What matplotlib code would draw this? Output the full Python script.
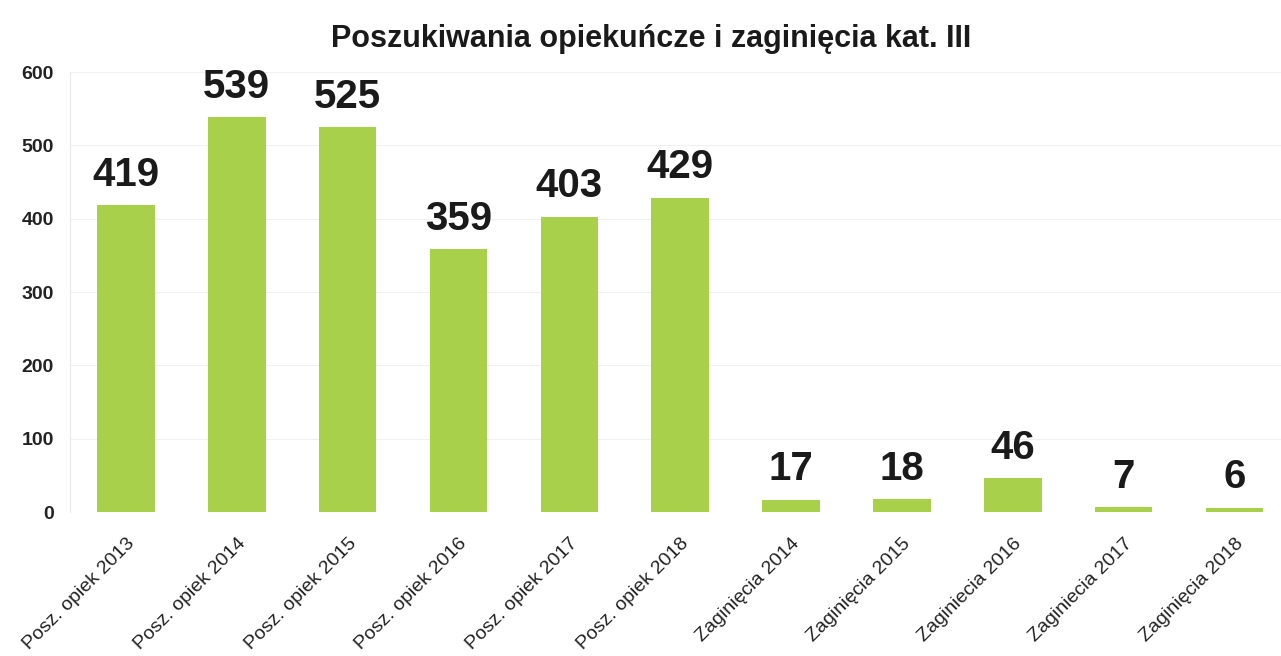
import matplotlib
matplotlib.use("Agg")
import matplotlib.pyplot as plt
from matplotlib.transforms import ScaledTranslation

categories = ["Posz. opiek 2013", "Posz. opiek 2014", "Posz. opiek 2015",
              "Posz. opiek 2016", "Posz. opiek 2017", "Posz. opiek 2018",
              "Zaginięcia 2014", "Zaginięcia 2015", "Zaginiecia 2016",
              "Zaginiecia 2017", "Zaginięcia 2018"]
values = [419, 539, 525, 359, 403, 429, 17, 18, 46, 7, 6]
yticks = [0, 100, 200, 300, 400, 500, 600]

plt.rcParams['font.family'] = ['Liberation Sans', 'DejaVu Sans']

fig = plt.figure(figsize=(12.81, 6.56), dpi=100)
ax = fig.add_axes([0.055, 0.2195, 0.952, 0.6705])

x = list(range(len(values)))
bars = ax.bar(x, values, width=0.52, color="#a9d04b", zorder=2)

ax.set_xlim(-0.5, 10.5)
ax.set_ylim(0, 600)
ax.set_yticks(yticks)
ax.set_yticklabels([str(t) for t in yticks], fontsize=14, fontweight='bold', color='#222222')
ax.yaxis.grid(True, color='#f0f0f0', linewidth=0.8, zorder=0)
ax.set_axisbelow(True)
for s in ['top', 'right', 'bottom']:
    ax.spines[s].set_visible(False)
ax.spines['left'].set_color('#e8e8e8')
ax.tick_params(axis='y', length=0, pad=12)
ax.tick_params(axis='x', length=0)

ax.set_xticks(x)
ax.set_xticklabels(categories, rotation=45, ha='right', va='top',
                   rotation_mode='anchor', fontsize=14, color='#222222')
offset = ScaledTranslation(0/100, -18/100, fig.dpi_scale_trans)
for lab in ax.get_xticklabels():
    lab.set_transform(lab.get_transform() + offset)

for xi, v in zip(x, values):
    ax.annotate(str(v), (xi, v), xytext=(0, 8), textcoords='offset points',
                ha='center', va='bottom', fontsize=29, fontweight='bold', color='#1a1a1a')

fig.text(0.508, 0.94, "Poszukiwania opiekuńcze i zaginięcia kat. III", ha='center', va='center',
         fontsize=22, fontweight='bold', color='#1a1a1a')

fig.savefig("out.png", dpi=100)
